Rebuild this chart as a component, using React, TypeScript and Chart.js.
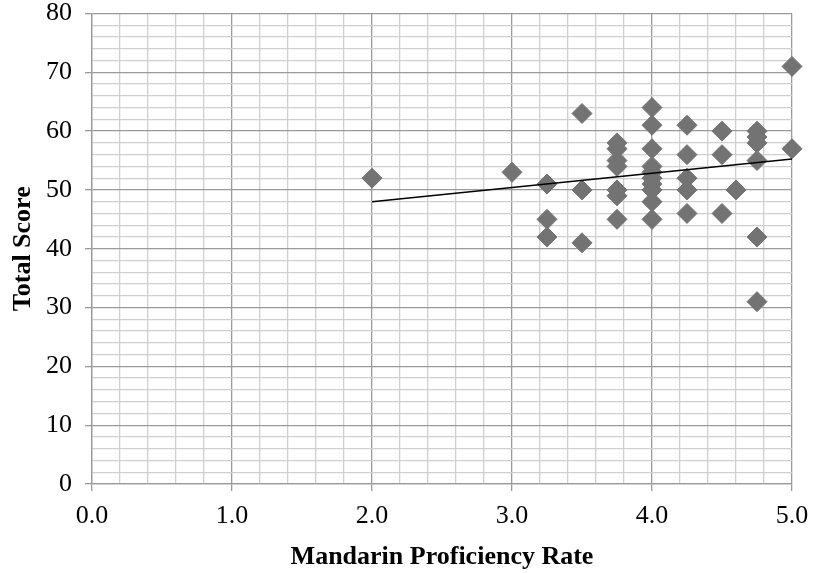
import React, { useEffect, useRef } from "react";
import { Chart, registerables } from "chart.js";

Chart.register(...registerables);

// Mandarin proficiency rate (x) and total score (y)
const proficiency: number[] = [
  2.0,
  3.0,
  3.25, 3.25, 3.25,
  3.5, 3.5, 3.5,
  3.75, 3.75, 3.75, 3.75, 3.75, 3.75, 3.75,
  4.0, 4.0, 4.0, 4.0, 4.0, 4.0, 4.0, 4.0, 4.0, 4.0,
  4.25, 4.25, 4.25, 4.25, 4.25,
  4.5, 4.5, 4.5,
  4.6,
  4.75, 4.75, 4.75, 4.75, 4.75, 4.75,
  5.0, 5.0,
];
const totalScore: number[] = [
  52,
  53,
  51, 45, 42,
  63, 50, 41,
  58, 57, 55, 54, 50, 49, 45,
  64, 61, 57, 54, 53, 52, 51, 50, 48, 45,
  61, 56, 52, 50, 46,
  60, 56, 46,
  50,
  60, 59, 58, 55, 42, 31,
  71, 57,
];

// Linear trendline endpoints
const trendX: number[] = [2.0, 5.0];
const trendY: number[] = [48.0, 55.25];

const xTitle = "Mandarin Proficiency Rate";
const yTitle = "Total Score";

const SERIF = "'Liberation Serif', 'Times New Roman', serif";

export default function App() {
  const ref = useRef<HTMLCanvasElement | null>(null);

  useEffect(() => {
    document.body.style.margin = "0";
    const canvas = ref.current;
    if (!canvas) return;
    const chart = new Chart(canvas, {
      type: "scatter",
      data: {
        datasets: [
          {
            label: "Scores",
            data: proficiency.map((x, i) => ({ x, y: totalScore[i] })),
            pointStyle: "rectRot",
            pointRadius: 10,
            pointBorderWidth: 1,
            backgroundColor: "#737373",
            borderColor: "#737373",
            showLine: false,
            clip: false,
            order: 2,
          },
          {
            label: "Trend",
            type: "line",
            data: trendX.map((x, i) => ({ x, y: trendY[i] })),
            borderColor: "#000000",
            borderWidth: 1.5,
            pointRadius: 0,
            fill: false,
            clip: false,
            order: 1,
          } as any,
        ],
      },
      options: {
        responsive: false,
        animation: false,
        events: [],
        layout: { padding: { left: 0, right: 22, top: 13.5, bottom: 0 } },
        plugins: {
          legend: { display: false },
          tooltip: { enabled: false },
        },
        scales: {
          x: {
            type: "linear",
            min: 0,
            max: 5,
            afterFit: (s: any) => {
              s.height = 89;
              s.paddingLeft = 0;
              s.paddingRight = 0;
            },
            afterBuildTicks: (s: any) => {
              const t = [];
              for (let i = 0; i <= 25; i++) t.push({ value: i / 5 });
              s.ticks = t;
            },
            ticks: {
              autoSkip: false,
              maxRotation: 0,
              color: "#000000",
              padding: 10,
              font: { family: SERIF, size: 26 },
              callback: (v: any) => {
                const n = Number(v);
                return Math.abs(n - Math.round(n)) < 1e-6 ? n.toFixed(1) : "";
              },
            },
            grid: {
              color: (c: any) => {
                const v = c.tick ? c.tick.value : 0;
                return Math.abs(v - Math.round(v)) < 1e-6 ? "#9a9a9a" : "#cfcfcf";
              },
              tickColor: (c: any) => {
                const v = c.tick ? c.tick.value : 0;
                return Math.abs(v - Math.round(v)) < 1e-6 ? "#9a9a9a" : "rgba(0,0,0,0)";
              },
              lineWidth: 1.3,
              tickLength: 7,
            },
            border: { color: "#9a9a9a", width: 1.3 },
            title: {
              display: true,
              text: xTitle,
              color: "#000000",
              font: { family: SERIF, size: 26, weight: "bold" },
              padding: { top: 10, bottom: 0 },
            },
          },
          y: {
            type: "linear",
            min: 0,
            max: 80,
            afterFit: (s: any) => {
              s.width = 92;
              s.paddingTop = 0;
              s.paddingBottom = 0;
            },
            afterBuildTicks: (s: any) => {
              const t = [];
              for (let i = 0; i <= 40; i++) t.push({ value: i * 2 });
              s.ticks = t;
            },
            ticks: {
              autoSkip: false,
              color: "#000000",
              padding: 13,
              font: { family: SERIF, size: 26 },
              callback: (v: any) => {
                const n = Number(v);
                return n % 10 === 0 ? String(n) : "";
              },
            },
            grid: {
              color: (c: any) => {
                const v = c.tick ? c.tick.value : 0;
                return v % 10 === 0 ? "#9a9a9a" : "#cfcfcf";
              },
              tickColor: (c: any) => {
                const v = c.tick ? c.tick.value : 0;
                return v % 10 === 0 ? "#9a9a9a" : "rgba(0,0,0,0)";
              },
              lineWidth: 1.3,
              tickLength: 7,
            },
            border: { color: "#9a9a9a", width: 1.3 },
            title: {
              display: true,
              text: yTitle,
              color: "#000000",
              font: { family: SERIF, size: 26, weight: "bold" },
              padding: { top: 8, bottom: 0 },
            },
          },
        },
      },
    } as any);
    return () => chart.destroy();
  }, []);

  return (
    <div style={{ position: "absolute", left: 0, top: 0, width: 814, height: 573 }}>
      <canvas ref={ref} width={814} height={573} style={{ display: "block" }} />
    </div>
  );
}
